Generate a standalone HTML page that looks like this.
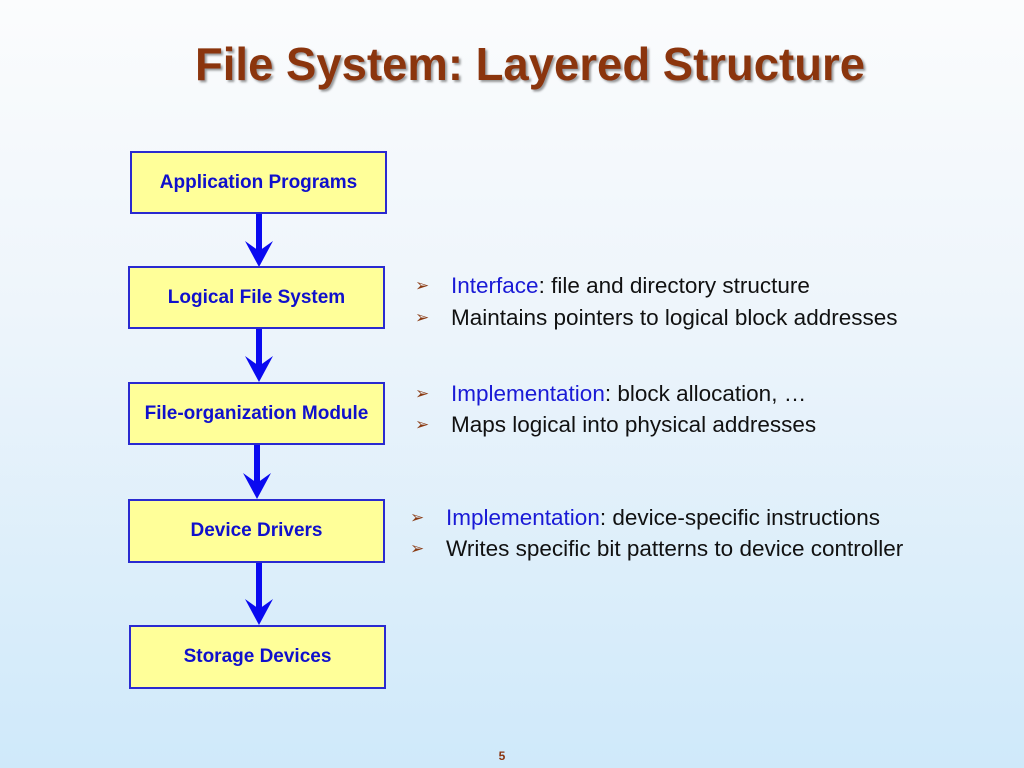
<!DOCTYPE html>
<html><head><meta charset="utf-8"><style>
html,body{margin:0;padding:0}
body{width:1024px;height:768px;overflow:hidden;background:linear-gradient(#fbfcfd 0%,#eef5fb 40%,#cfe9fa 100%);font-family:"Liberation Sans",Arial,sans-serif;position:relative}
.box{position:absolute;background:#ffff99;border:2px solid #2a2ad0;box-sizing:border-box;display:flex;align-items:center;justify-content:center;color:#1010cc;font-weight:bold;font-size:19px}
.t{position:absolute;font-size:22.5px;color:#111;white-space:nowrap}
.t span.b{color:#1a1ad6}
.t i{font-style:normal;color:#8a3a12;font-size:17px;display:inline-block;width:36px;vertical-align:2px}
</style></head><body>
<svg width="1024" height="768" style="position:absolute;left:0;top:0">
<defs><filter id="s"><feDropShadow dx="2" dy="2" stdDeviation="1" flood-color="#555" flood-opacity="0.6"/></filter></defs>
<text x="195" y="80" textLength="670" lengthAdjust="spacingAndGlyphs" font-family="Liberation Sans, Arial, sans-serif" font-weight="bold" font-size="46" fill="#8b3510" filter="url(#s)">File System: Layered Structure</text>
<g fill="#0a0af0">
<rect x="256" y="213" width="6" height="40"/><polygon points="245,241 259,251 273,241 259,267"/>
<rect x="256" y="328" width="6" height="40"/><polygon points="245,356 259,366 273,356 259,382"/>
<rect x="254" y="444" width="6" height="42"/><polygon points="243,473 257,483 271,473 257,499"/>
<rect x="256" y="562" width="6" height="48"/><polygon points="245,599 259,609 273,599 259,625"/>
</g>
<text x="502" y="760" font-family="Liberation Sans, Arial, sans-serif" font-weight="bold" font-size="12" fill="#8b3510" text-anchor="middle">5</text>
</svg>
<div class="box" style="left:130px;top:151px;width:257px;height:63px">Application Programs</div>
<div class="box" style="left:128px;top:266px;width:257px;height:63px">Logical File System</div>
<div class="box" style="left:128px;top:382px;width:257px;height:63px">File-organization Module</div>
<div class="box" style="left:128px;top:499px;width:257px;height:64px">Device Drivers</div>
<div class="box" style="left:129px;top:625px;width:257px;height:64px">Storage Devices</div>
<div class="t" style="left:415px;top:273px"><i>➢</i><span class="b">Interface</span>: file and directory structure</div>
<div class="t" style="left:415px;top:305px"><i>➢</i>Maintains pointers to logical block addresses</div>
<div class="t" style="left:415px;top:381px"><i>➢</i><span class="b">Implementation</span>: block allocation, …</div>
<div class="t" style="left:415px;top:412px"><i>➢</i>Maps logical into physical addresses</div>
<div class="t" style="left:410px;top:505px"><i>➢</i><span class="b">Implementation</span>: device-specific instructions</div>
<div class="t" style="left:410px;top:536px"><i>➢</i>Writes specific bit patterns to device controller</div>
</body></html>
